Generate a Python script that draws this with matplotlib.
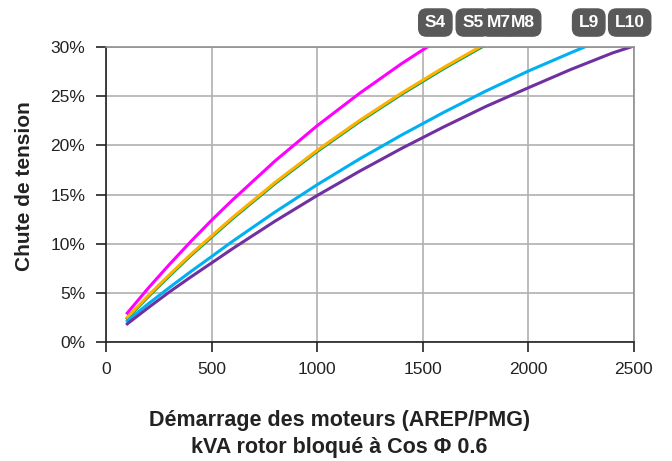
import matplotlib
matplotlib.use("Agg")
import matplotlib.pyplot as plt
from matplotlib.ticker import FuncFormatter

plt.rcParams['font.family'] = ['Liberation Sans', 'DejaVu Sans']

# kVA rotor bloqué
kva = [100, 200, 300, 400, 500, 600, 800, 1000, 1200, 1400, 1600, 1800, 2000, 2200, 2400, 2500]

# chute de tension (%)
s4 = [2.95, 5.5, 7.9, 10.2, 12.4, 14.47, 18.41, 22.0, 25.28, 28.31, 31.09, 33.67, 36.06, 38.29, 40.36, 41.35]
s5 = [2.5, 4.75, 6.85, 8.9, 10.8, 12.69, 16.23, 19.5, 22.52, 25.32, 27.93, 30.36, 32.63, 34.76, 36.76, 37.71]
m7 = [2.4, 4.63, 6.73, 8.78, 10.68, 12.57, 16.11, 19.38, 22.4, 25.2, 27.81, 30.24, 32.51, 34.64, 36.64, 37.59]
l9 = [2.15, 3.9, 5.55, 7.15, 8.7, 10.26, 13.22, 16.0, 18.61, 21.05, 23.36, 25.53, 27.55, 29.4, 31.2, 32.1]
l10 = [1.85, 3.5, 5.1, 6.6, 8.05, 9.51, 12.29, 14.9, 17.36, 19.69, 21.88, 23.96, 25.85, 27.7, 29.4, 30.1]

tags = ['S4', 'S5', 'M7', 'M8', 'L9', 'L10']
tag_x = [1560, 1738, 1861, 1974, 2287, 2481]

fig = plt.figure(figsize=(6.72, 4.61), dpi=100)
ax = fig.add_axes([0.158, 0.258, 0.785, 0.64])

ax.plot(kva, m7, color='#00a050', lw=2.2)
ax.plot(kva, s5, color='#ffb000', lw=2.2)
ax.plot(kva, s4, color='#ff00ff', lw=2.2)
ax.plot(kva, l9, color='#00b0f0', lw=2.2)
ax.plot(kva, l10, color='#7030a0', lw=2.2)

ax.set_xlim(0, 2500)
ax.set_ylim(0, 30)
ax.set_xticks(range(0, 2501, 500))
ax.set_yticks(range(0, 31, 5))
ax.yaxis.set_major_formatter(FuncFormatter(lambda v, p: f"{int(v)}%"))
ax.grid(True, color='#b0b0b0', lw=1.2)
ax.set_axisbelow(True)
for s in ['top', 'right']:
    ax.spines[s].set_color('#909090')
    ax.spines[s].set_linewidth(1.2)
for s in ['left', 'bottom']:
    ax.spines[s].set_color('#222222')
    ax.spines[s].set_linewidth(1.2)
ax.tick_params(direction='out', length=7, width=1.2, labelsize=12.5, color='#222222',
               labelcolor='#222222')
ax.tick_params(axis='x', pad=7)
ax.tick_params(axis='y', pad=8)

ax.set_ylabel('Chute de tension', fontsize=15, fontweight='bold', color='#222222')
ax.yaxis.set_label_coords(-0.136, 0.53)
fig.text(0.505, 0.058, 'Démarrage des moteurs (AREP/PMG)\nkVA rotor bloqué à Cos \u03a6 0.6',
         ha='center', va='center', fontsize=15.5, fontweight='bold', linespacing=1.35,
         color='#222222')

# boxes first, labels on top so overlapping boxes keep all text visible
for t, x in zip(tags, tag_x):
    ax.text(x, 1.083, t, transform=ax.get_xaxis_transform(), ha='center', va='center',
            fontsize=12.5, fontweight='bold', color='#595959', zorder=5, clip_on=False,
            bbox=dict(boxstyle='round,pad=0.35,rounding_size=0.45', fc='#595959', ec='#595959'))
for t, x in zip(tags, tag_x):
    ax.text(x, 1.083, t, transform=ax.get_xaxis_transform(), ha='center', va='center',
            fontsize=12.5, fontweight='bold', color='white', zorder=6, clip_on=False)

fig.savefig('out.png', dpi=100)
